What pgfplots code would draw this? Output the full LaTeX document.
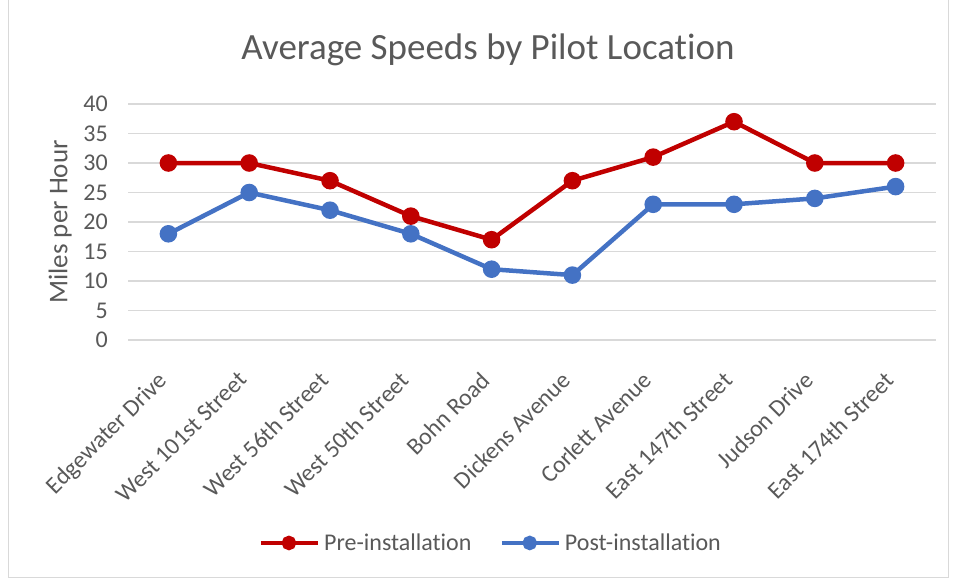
\documentclass[border=0pt]{standalone}
\usepackage{fontspec}
\setmainfont{Carlito}[Ligatures=NoCommon]
\usepackage{pgfplots}
\pgfplotsset{compat=1.18}
\definecolor{prered}{HTML}{C00000}
\definecolor{postblue}{HTML}{4472C4}
\definecolor{gridgray}{HTML}{D9D9D9}
\definecolor{txtgray}{HTML}{595959}
\begin{document}
\begin{tikzpicture}
\path[use as bounding box] (0,0) rectangle (954bp,-579bp);
\draw[gridgray, line width=1bp] (8bp,2bp) rectangle (948bp,-577bp);
\node[txtgray, font=\fontsize{37bp}{40bp}\selectfont] at (488bp,-50bp) {Average Speeds by Pilot Location};
\begin{axis}[
  at={(128bp,-340bp)}, anchor=south west,
  scale only axis, width=808bp, height=236bp,
  xmin=-0.5, xmax=9.5, ymin=0, ymax=40,
  ytick={0,5,...,40},
  xtick={0,...,9},
  xticklabels={Edgewater Drive, West 101st Street, West 56th Street, West 50th Street, Bohn Road, Dickens Avenue, Corlett Avenue, East 147th Street, Judson Drive, East 174th Street},
  x tick label style={xshift=-12bp, yshift=-30bp, rotate=45, anchor=north east, font=\fontsize{24bp}{26bp}\selectfont, text=txtgray, inner sep=0bp},
  y tick label style={font=\fontsize{24bp}{26bp}\selectfont, text=txtgray, inner sep=0bp, xshift=-20bp},
  /pgf/number format/assume math mode=true,
  ylabel={Miles per Hour},
  ylabel style={font=\fontsize{27bp}{29bp}\selectfont, text=txtgray, at={(axis description cs:-0.084,0.5)}, anchor=center},
  axis line style={draw=none},
  major tick length=0pt,
  ymajorgrids, grid style={gridgray, line width=1.5bp},
  legend style={at={(0.449,-0.86)}, anchor=center, draw=none, legend columns=2,
    font=\fontsize{24bp}{26bp}\selectfont, text=txtgray, inner sep=0bp,
    /tikz/every odd column/.append style={column sep=2bp},
    /tikz/every even column/.append style={column sep=26bp}},
  legend image code/.code={\draw[mark repeat=2, mark phase=2, mark size=5bp] plot coordinates {(0bp,0bp) (28bp,0bp) (57bp,0bp)};},
]
\addplot[prered, line width=4.5bp, mark=*, mark size=6.5bp, mark options={fill=prered}]
coordinates {(0,30)(1,30)(2,27)(3,21)(4,17)(5,27)(6,31)(7,37)(8,30)(9,30)};
\addlegendentry{Pre-installation}
\addplot[postblue, line width=4.5bp, mark=*, mark size=6.5bp, mark options={fill=postblue}]
coordinates {(0,18)(1,25)(2,22)(3,18)(4,12)(5,11)(6,23)(7,23)(8,24)(9,26)};
\addlegendentry{Post-installation}
\end{axis}
\end{tikzpicture}
\end{document}
